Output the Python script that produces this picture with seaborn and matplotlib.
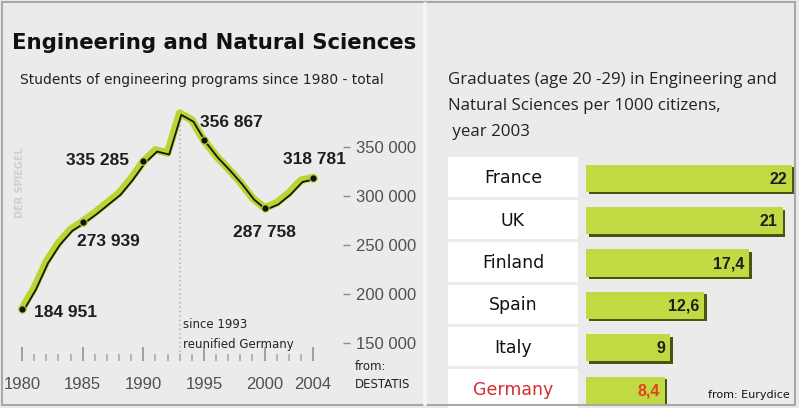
import matplotlib
matplotlib.use("Agg")
import matplotlib.pyplot as plt
import matplotlib.patheffects as pe
import matplotlib.transforms as mtransforms
from matplotlib.patches import Rectangle
import pandas as pd
import seaborn as sns

# ---------------------------------------------------------
# DATA
# ---------------------------------------------------------
years = list(range(1980, 2005))
students = [184951, 206000, 233000, 252000, 266000, 273939, 283000, 293000, 303000, 318000,
            335285, 347000, 344000, 384500, 377500, 356867, 341000, 328000, 314000, 298000,
            287758, 293000, 303000, 316000, 318781]
marked_years = [1980, 1985, 1990, 1995, 2000, 2004]
marked_labels = ["184 951", "273 939", "335 285", "356 867", "287 758", "318 781"]
y_ticks = [150000, 200000, 250000, 300000, 350000]
y_tick_labels = ["150 000", "200 000", "250 000", "300 000", "350 000"]
x_tick_labels = [1980, 1985, 1990, 1995, 2000, 2004]

countries = ["France", "UK", "Finland", "Spain", "Italy", "Germany"]
graduates = [22, 21, 17.4, 12.6, 9, 8.4]
graduate_labels = ["22", "21", "17,4", "12,6", "9", "8,4"]

# ---------------------------------------------------------
# STYLE
# ---------------------------------------------------------
sns.set_theme(style="white")
plt.rcParams['font.family'] = ['DejaVu Sans']

NARROW = 'Liberation Sans'
BG = '#ebebeb'
GREEN = '#b8d42e'
BAR = '#bfda42'
SHADOW = '#4b5212'
RED = '#d2302c'

fig = plt.figure(figsize=(7.99, 4.08), dpi=100, facecolor=BG)

# frame round the whole graphic
fig.patches.append(Rectangle((2 / 799, 3 / 408), 793 / 799, 403 / 408, transform=fig.transFigure,
                             fill=False, edgecolor='#a8a8a8', linewidth=1.5))
fig.lines.append(plt.Line2D([425 / 799, 425 / 799], [0.01, 0.99], transform=fig.transFigure,
                            color='#f4f4f4', linewidth=3))

fig.text(12 / 799, 1 - 43 / 408, "Engineering and Natural Sciences",
         fontsize=15.3, fontweight='bold', color='#111111', va='center', ha='left')
fig.text(20 / 799, 1 - 80 / 408, "Students of engineering programs since 1980 - total",
         fontsize=10, color='#222222', va='center', ha='left')

right_title = ["Graduates (age 20 -29) in Engineering and",
               "Natural Sciences per 1000 citizens,",
               " year 2003"]
for i, line in enumerate(right_title):
    fig.text(448 / 799, 1 - (80 + 26 * i) / 408, line, family='Open Sans', fontsize=12.2,
             color='#222222', va='center', ha='left')

# ---------------------------------------------------------
# LEFT: line chart
# ---------------------------------------------------------
ax = fig.add_axes([10 / 799, 1 - 361 / 408, 333 / 799, 261 / 408])
ax.set_facecolor(BG)
df_line = pd.DataFrame({"year": years, "students": students})

ax.vlines(1993, 131600, df_line.loc[df_line.year == 1993, "students"].iloc[0],
          colors='#a9b9c9', linestyles=':', linewidth=1.2, zorder=1)

sns.lineplot(data=df_line, x="year", y="students", ax=ax, color=GREEN, linewidth=5.5,
             solid_capstyle='round', solid_joinstyle='round', zorder=2)
sns.lineplot(data=df_line, x="year", y="students", ax=ax, color='#151515', linewidth=1.3, zorder=3)
ax.lines[-1].set_transform(mtransforms.offset_copy(ax.transData, fig=fig, x=1.6, y=-1.6, units='dots'))

df_marked = df_line[df_line.year.isin(marked_years)]
sns.scatterplot(data=df_marked, x="year", y="students", ax=ax, color='#111111', s=28,
                edgecolor=GREEN, linewidth=0.8, zorder=4)

# label placement in pixels relative to the dots
offsets = [(43, -4), (26, -20), (-46, 1), (27, 18), (0, -24), (1, 18)]
for (yr, val), txt, (dx, dy) in zip(df_marked[["year", "students"]].values, marked_labels, offsets):
    ax.annotate(txt, (yr, val), xytext=(dx * 0.72, dy * 0.72), textcoords='offset points',
                ha='center', va='center', fontsize=12.5, fontweight='bold', color='#1e1e1e',
                family=NARROW)

ax.text(1993.25, 168500, "since 1993", fontsize=8.5, color='#222222', ha='left', va='center')
ax.text(1993.25, 148000, "reunified Germany", fontsize=8.5, color='#222222', ha='left', va='center')

ax.set_xlim(1979.0, 2006.47)
ax.set_ylim(131600, 398000)
for s in ax.spines.values():
    s.set_visible(False)

ax.yaxis.tick_right()
ax.set_yticks(y_ticks)
ax.set_yticklabels(y_tick_labels)
ax.tick_params(axis='y', direction='out', length=5, width=1, color='#8a8a8a', pad=4,
               labelcolor='#505050', labelsize=12)
ax.set_xticks(x_tick_labels)
ax.set_xticklabels([str(v) for v in x_tick_labels])
ax.set_xticks(years, minor=True)
ax.tick_params(axis='x', which='major', direction='in', length=10, width=1.3, color='#9a9a9a',
               pad=11.5, labelcolor='#505050', labelsize=12, bottom=True)
ax.tick_params(axis='x', which='minor', direction='in', length=5, width=1.1, color='#a5a5a5', bottom=True)
for lbl in ax.get_xticklabels() + ax.get_yticklabels():
    lbl.set_family(NARROW)
ax.set_xlabel("")
ax.set_ylabel("")
ax.grid(False)

fig.text(20 / 799, 1 - 183 / 408, "DER SPIEGEL", rotation=90, fontsize=7, fontweight='bold',
         color='#cfcfcf', ha='center', va='center')
fig.text(355 / 799, 1 - 367 / 408, "from:", fontsize=8.5, color='#222222', ha='left', va='center')
fig.text(355 / 799, 1 - 385 / 408, "DESTATIS", fontsize=8.5, color='#222222', ha='left', va='center')

# ---------------------------------------------------------
# RIGHT: bar chart
# ---------------------------------------------------------
bx = fig.add_axes([586 / 799, 0, 213 / 799, 251 / 408])
bx.set_facecolor(BG)
df_bar = pd.DataFrame({"country": countries, "graduates": graduates})
sns.barplot(data=df_bar, y="country", x="graduates", orient='h', ax=bx, color=BAR,
            saturation=1, width=0.64, edgecolor='none')
for p in bx.patches:
    p.set_path_effects([pe.SimplePatchShadow(offset=(1.8, -1.8), shadow_rgbFace=SHADOW, alpha=1),
                        pe.Normal()])

bx.set_xlim(0, 22.73)
bx.set_ylim(5.42, -0.5)
for s in bx.spines.values():
    s.set_visible(False)
bx.set_xticks([])
bx.set_yticks([])
bx.set_xlabel("")
bx.set_ylabel("")

for i, (name, val, txt) in enumerate(zip(countries, graduates, graduate_labels)):
    colour = RED if name == "Germany" else '#111111'
    bx.add_patch(Rectangle((-14.73, i - 0.49), 13.88, 0.93, facecolor='white', edgecolor='none',
                           clip_on=False, zorder=0))
    bx.text(-7.8, i, name, ha='center', va='center', fontsize=12.5, color=colour, clip_on=False)
    bx.text(val - 0.55, i + 0.02, txt, ha='right', va='center', fontsize=11.5, fontweight='bold',
            color='#e8401c' if name == "Germany" else '#1e1e1e', family=NARROW)

fig.text(790 / 799, 1 - 395 / 408, "from: Eurydice", fontsize=8, color='#111111', ha='right', va='center')

fig.savefig("out.png", dpi=100, facecolor=BG)
